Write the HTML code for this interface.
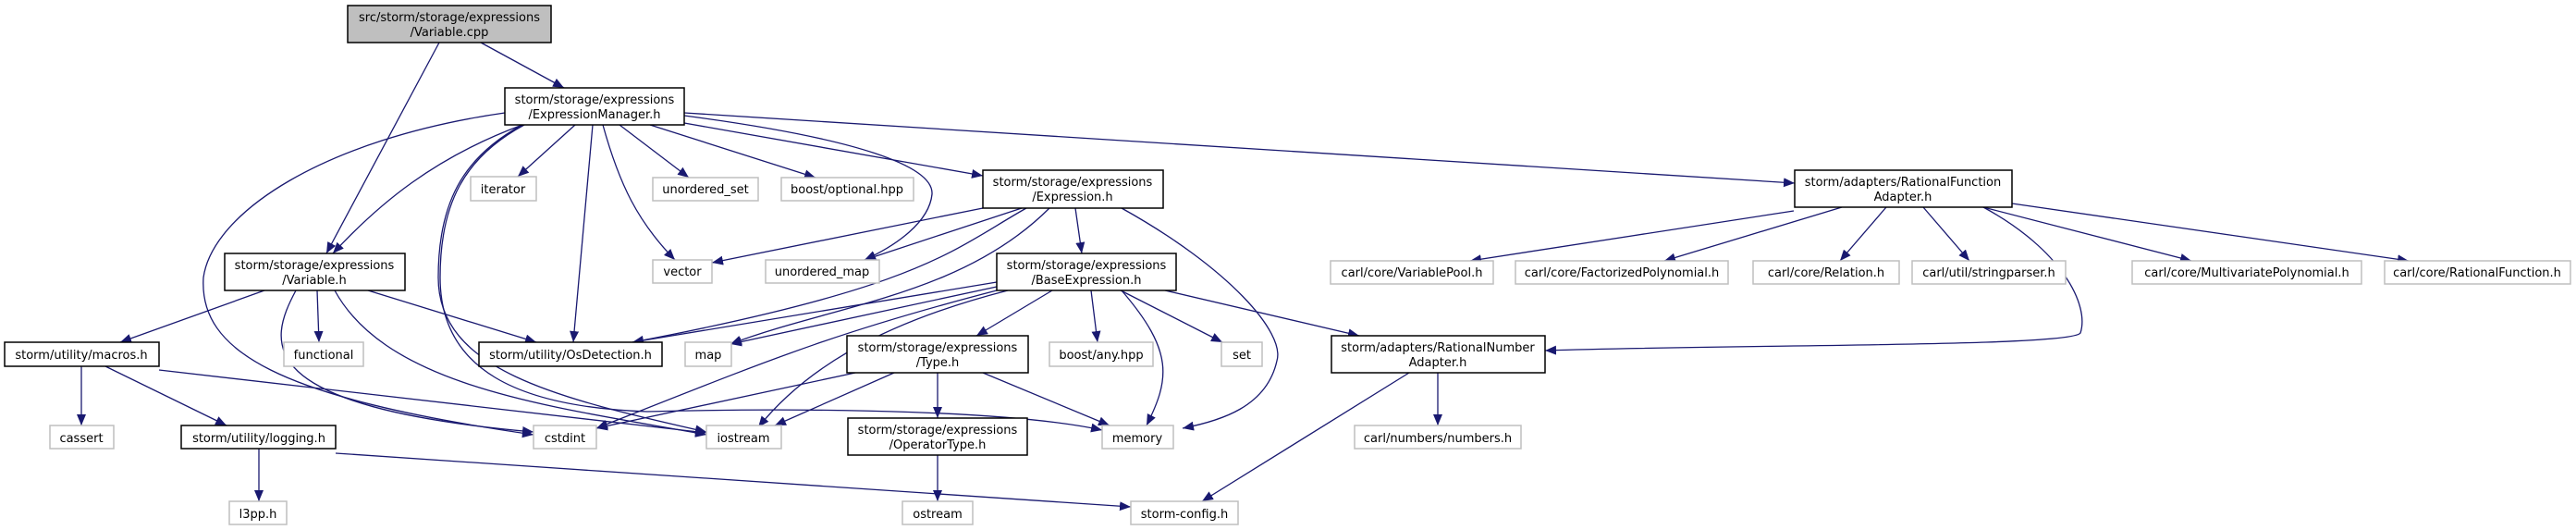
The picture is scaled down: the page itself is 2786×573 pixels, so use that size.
<!DOCTYPE html>
<html><head><meta charset="utf-8"><style>
html,body{margin:0;padding:0;background:#fff;}
svg{display:block;}
text{font-family:"DejaVu Sans","Liberation Sans",sans-serif;font-size:13px;fill:#000;}
.e{fill:none;stroke:#191970;stroke-width:1.3;}
.b{fill:#fff;stroke:#000;stroke-width:1.5;}
.g{fill:#fff;stroke:#bfbfbf;stroke-width:1.5;}
</style></head><body>
<svg width="2786" height="573" viewBox="0 0 2786 573" xmlns="http://www.w3.org/2000/svg">
<defs><marker id="a" markerUnits="userSpaceOnUse" markerWidth="14" markerHeight="12" refX="12" refY="5" orient="auto"><path d="M0,0 L12,5 L0,10 z" fill="#191970"/></marker></defs>
<g class="e" marker-end="url(#a)">
<path d="M520,46 L610,95"/>
<path d="M475,46 L353,274"/>
<path d="M565,135 C470,170 410,220 360,274"/>
<path d="M622,135 L560,191"/>
<path d="M670,135 L745,192"/>
<path d="M703,135 L882,192"/>
<path d="M740,133 L1063,190"/>
<path d="M740,122 L1941,198"/>
<path d="M652,135 C670,200 690,240 730,281"/>
<path d="M740,125 C930,150 1010,180 1008,210 C1005,240 970,265 935,281"/>
<path d="M641,135 L620,370"/>
<path d="M546,122 C350,150 230,230 220,300 C215,380 300,430 577,470"/>
<path d="M565,135 C500,170 474,220 474,300 C474,400 600,430 764,467"/>
<path d="M567,135 C502,170 476,220 476,300 C476,400 560,440 700,445 C900,440 1100,445 1192,465"/>
<path d="M320,314 C290,370 270,440 577,467"/>
<path d="M362,314 C420,420 600,440 764,470"/>
<path d="M286,314 L130,370"/>
<path d="M343,314 L345,370"/>
<path d="M398,314 L580,370"/>
<path d="M1063,225 L770,284"/>
<path d="M1105,225 L935,281"/>
<path d="M1110,225 C1030,270 1000,310 684,370"/>
<path d="M1163,225 L1170,274"/>
<path d="M1135,225 C1040,320 900,330 790,372"/>
<path d="M1213,225 C1330,290 1390,360 1381,390 C1370,440 1320,455 1279,463"/>
<path d="M1078,305 L684,370"/>
<path d="M1078,310 L790,372"/>
<path d="M1078,314 C900,360 830,390 645,463"/>
<path d="M1090,314 C950,350 870,400 820,462"/>
<path d="M1138,314 L1056,363"/>
<path d="M1180,314 L1187,370"/>
<path d="M1212,314 L1322,370"/>
<path d="M1213,314 C1270,380 1265,410 1240,460"/>
<path d="M1260,314 L1470,363"/>
<path d="M925,403 L645,463"/>
<path d="M967,403 L838,460"/>
<path d="M1014,403 L1014,452"/>
<path d="M1063,403 L1200,460"/>
<path d="M1014,492 L1014,542"/>
<path d="M88,396 L88,460"/>
<path d="M114,396 L245,460"/>
<path d="M172,400 L764,468"/>
<path d="M280,485 L280,542"/>
<path d="M363,490 L1223,548"/>
<path d="M1940,228 L1590,282"/>
<path d="M1992,224 L1800,282"/>
<path d="M2040,224 L1990,282"/>
<path d="M2080,224 L2130,282"/>
<path d="M2145,224 L2370,282"/>
<path d="M2176,220 L2605,282"/>
<path d="M2145,224 C2230,270 2260,330 2250,360 C2240,375 1900,372 1671,379"/>
<path d="M1555,403 L1555,460"/>
<path d="M1524,403 L1300,542"/>
</g>
<rect x="376" y="6" width="220" height="40" fill="#bfbfbf" stroke="#000" stroke-width="1.5"/>
<text x="486" y="23" text-anchor="middle">src/storm/storage/expressions</text>
<text x="486" y="39" text-anchor="middle">/Variable.cpp</text>
<rect class="b" x="546" y="95" width="194" height="40"/>
<text x="643" y="112" text-anchor="middle">storm/storage/expressions</text>
<text x="643" y="128" text-anchor="middle">/ExpressionManager.h</text>
<rect class="b" x="243" y="274" width="195" height="40"/>
<text x="340" y="291" text-anchor="middle">storm/storage/expressions</text>
<text x="340" y="307" text-anchor="middle">/Variable.h</text>
<rect class="b" x="1063" y="184" width="195" height="41"/>
<text x="1160" y="201" text-anchor="middle">storm/storage/expressions</text>
<text x="1160" y="217" text-anchor="middle">/Expression.h</text>
<rect class="b" x="1078" y="274" width="194" height="40"/>
<text x="1175" y="291" text-anchor="middle">storm/storage/expressions</text>
<text x="1175" y="307" text-anchor="middle">/BaseExpression.h</text>
<rect class="b" x="916" y="363" width="196" height="40"/>
<text x="1014" y="380" text-anchor="middle">storm/storage/expressions</text>
<text x="1014" y="396" text-anchor="middle">/Type.h</text>
<rect class="b" x="917" y="452" width="194" height="40"/>
<text x="1014" y="469" text-anchor="middle">storm/storage/expressions</text>
<text x="1014" y="485" text-anchor="middle">/OperatorType.h</text>
<rect class="b" x="1941" y="184" width="235" height="40"/>
<text x="2058" y="201" text-anchor="middle">storm/adapters/RationalFunction</text>
<text x="2058" y="217" text-anchor="middle">Adapter.h</text>
<rect class="b" x="1440" y="363" width="231" height="40"/>
<text x="1555" y="380" text-anchor="middle">storm/adapters/RationalNumber</text>
<text x="1555" y="396" text-anchor="middle">Adapter.h</text>
<rect class="b" x="5" y="370" width="167" height="26"/><text x="88" y="388" text-anchor="middle">storm/utility/macros.h</text>
<rect class="b" x="518" y="370" width="198" height="26"/><text x="617" y="388" text-anchor="middle">storm/utility/OsDetection.h</text>
<rect class="b" x="196" y="460" width="167" height="25"/><text x="280" y="478" text-anchor="middle">storm/utility/logging.h</text>
<g>
<rect class="g" x="509" y="191" width="71" height="26"/><text x="544" y="209" text-anchor="middle">iterator</text>
<rect class="g" x="706" y="192" width="114" height="25"/><text x="763" y="209" text-anchor="middle">unordered_set</text>
<rect class="g" x="845" y="192" width="143" height="25"/><text x="916" y="209" text-anchor="middle">boost/optional.hpp</text>
<rect class="g" x="706" y="281" width="64" height="25"/><text x="738" y="298" text-anchor="middle">vector</text>
<rect class="g" x="828" y="281" width="123" height="25"/><text x="889" y="298" text-anchor="middle">unordered_map</text>
<rect class="g" x="307" y="370" width="86" height="26"/><text x="350" y="388" text-anchor="middle">functional</text>
<rect class="g" x="741" y="370" width="50" height="26"/><text x="766" y="388" text-anchor="middle">map</text>
<rect class="g" x="1135" y="370" width="112" height="26"/><text x="1191" y="388" text-anchor="middle">boost/any.hpp</text>
<rect class="g" x="1321" y="370" width="44" height="26"/><text x="1343" y="388" text-anchor="middle">set</text>
<rect class="g" x="54" y="460" width="69" height="25"/><text x="88" y="478" text-anchor="middle">cassert</text>
<rect class="g" x="577" y="460" width="68" height="25"/><text x="611" y="478" text-anchor="middle">cstdint</text>
<rect class="g" x="764" y="460" width="81" height="25"/><text x="804" y="478" text-anchor="middle">iostream</text>
<rect class="g" x="1192" y="460" width="77" height="25"/><text x="1230" y="478" text-anchor="middle">memory</text>
<rect class="g" x="1465" y="460" width="180" height="25"/><text x="1555" y="478" text-anchor="middle">carl/numbers/numbers.h</text>
<rect class="g" x="248" y="542" width="62" height="25"/><text x="279" y="560" text-anchor="middle">l3pp.h</text>
<rect class="g" x="976" y="542" width="76" height="25"/><text x="1014" y="560" text-anchor="middle">ostream</text>
<rect class="g" x="1223" y="542" width="116" height="25"/><text x="1281" y="560" text-anchor="middle">storm-config.h</text>
<rect class="g" x="1439" y="282" width="176" height="25"/><text x="1527" y="299" text-anchor="middle">carl/core/VariablePool.h</text>
<rect class="g" x="1639" y="282" width="230" height="25"/><text x="1754" y="299" text-anchor="middle">carl/core/FactorizedPolynomial.h</text>
<rect class="g" x="1896" y="282" width="158" height="25"/><text x="1975" y="299" text-anchor="middle">carl/core/Relation.h</text>
<rect class="g" x="2068" y="282" width="166" height="25"/><text x="2151" y="299" text-anchor="middle">carl/util/stringparser.h</text>
<rect class="g" x="2306" y="282" width="248" height="25"/><text x="2430" y="299" text-anchor="middle">carl/core/MultivariatePolynomial.h</text>
<rect class="g" x="2579" y="282" width="201" height="25"/><text x="2679" y="299" text-anchor="middle">carl/core/RationalFunction.h</text>
</g>
</svg>
</body></html>
